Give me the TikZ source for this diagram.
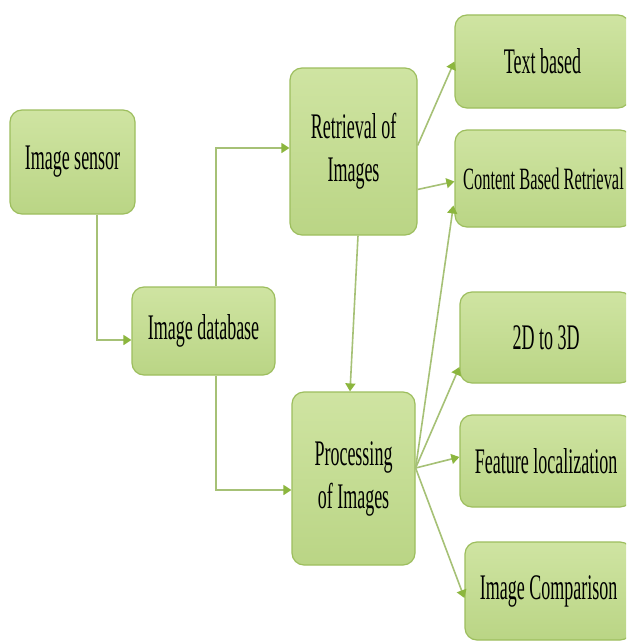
\documentclass[tikz,border=0pt]{standalone}
\usepackage{fontspec}
\setmainfont{Liberation Serif}[FakeStretch=0.5]
\newfontfamily\narrowfont{Liberation Serif}[FakeStretch=0.53]
\usetikzlibrary{arrows.meta,calc}
\definecolor{boxtop}{HTML}{CFE4A2}
\definecolor{boxbot}{HTML}{BAD585}
\definecolor{boxedge}{HTML}{9DBE5E}
\definecolor{linecol}{HTML}{A6C176}
\definecolor{tipcol}{HTML}{8CB63E}
\tikzset{
  box/.style={rectangle, rounded corners=12pt, draw=boxedge, line width=1.2pt,
    top color=boxtop, bottom color=boxbot, inner sep=0pt, align=center,
    font=\fontsize{36}{43}\selectfont, text=black},
  conn/.style={draw=linecol, line width=1.6pt,
    -{Triangle[length=8pt,width=10pt,fill=tipcol,color=tipcol]}},
}
\begin{document}
\begin{tikzpicture}[x=1pt,y=-1pt]
\useasboundingbox (0,0) rectangle (626,642);
\clip (0,0) rectangle (626,642);
\fill[white] (0,0) rectangle (626,642);
\node[box, minimum width=125pt, minimum height=104pt] (sensor) at (72.5,162) {Image sensor};
\node[box, minimum width=143pt, minimum height=88pt] (db) at (203.5,331) {Image database};
\node[box, minimum width=127pt, minimum height=167pt] (ret) at (353.5,151.5) {Retrieval of\\Images};
\node[box, minimum width=123pt, minimum height=173pt] (proc) at (353.5,478.5) {Processing\\of Images};
\node[box, minimum width=175pt, minimum height=93pt] (txt) at (542.5,61.5) {Text based};
\node[box, minimum width=177pt, minimum height=97pt, font=\narrowfont\fontsize{31}{37}\selectfont] (cbr) at (543.5,178.5) {Content Based Retrieval};
\node[box, minimum width=172pt, minimum height=91pt] (td) at (546,337.5) {2D to 3D};
\node[box, minimum width=172pt, minimum height=92pt] (feat) at (546,461) {Feature localization};
\node[box, minimum width=167pt, minimum height=98pt] (cmp) at (548.5,591) {Image Comparison};

\coordinate (sb) at ([xshift=24.5pt]sensor.south);
\coordinate (po) at ([yshift=10.5pt]proc.east);

\draw[conn] (sb) |- ([yshift=-9pt]db.west);
\draw[conn] ([xshift=12.5pt]db.north) |- ([yshift=3.5pt]ret.west);
\draw[conn] ([xshift=12.5pt]db.south) |- ([yshift=-11.5pt]proc.west);
\draw[conn] ([xshift=4.5pt]ret.south) -- ([xshift=-3.5pt]proc.north);
\draw[conn] ([yshift=6pt]ret.east) -- (txt.west);
\draw[conn] ([yshift=-38pt]ret.east) -- ([yshift=-3pt]cbr.west);
\draw[conn] (po) -- ([yshift=-27pt,xshift=-1pt]cbr.west);
\draw[conn] (po) -- ([yshift=-29.5pt]td.west);
\draw[conn] (po) -- ([yshift=4pt]feat.west);
\draw[conn] (po) -- ([yshift=-7pt]cmp.west);
\end{tikzpicture}
\end{document}
